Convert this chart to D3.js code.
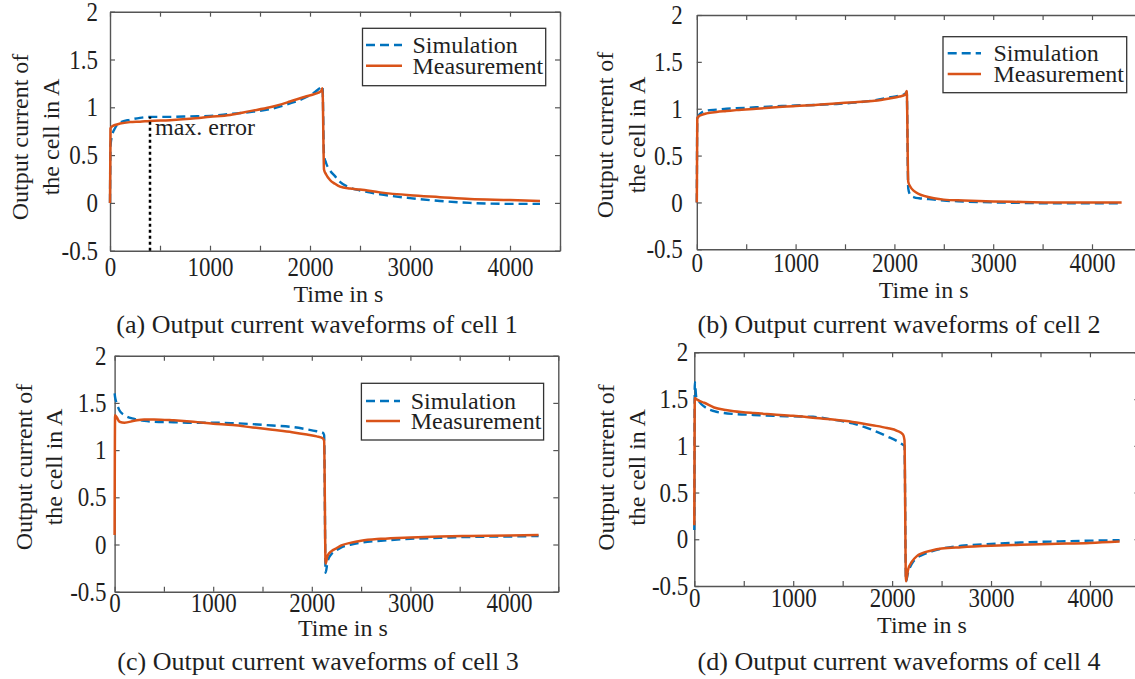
<!DOCTYPE html>
<html>
<head>
<meta charset="utf-8">
<script src="https://cdn.jsdelivr.net/npm/d3@7"></script>
<style>
  body { margin: 0; background: #fff; }
  svg text { font-family: "Liberation Serif", "Times New Roman", serif; fill: #1f1f1f; }
</style>
</head>
<body>
<div id="chart"></div>
<script>
// shared sample times (s)
const time = [0, 5, 20, 50, 100, 200, 300, 400, 600, 800, 1000, 1200, 1400, 1600, 1800, 1950,
  2050, 2110, 2125, 2140, 2160, 2200, 2250, 2300, 2400, 2500, 2700, 3000, 3300, 3600, 4000, 4300];

// output current in A
const simCell1 = [0, 0.6, 0.7, 0.78, 0.84, 0.87, 0.89, 0.9, 0.9, 0.905, 0.91, 0.93, 0.95, 0.98, 1.04, 1.1,
  1.16, 1.21, 1.22, 0.5, 0.42, 0.34, 0.28, 0.22, 0.16, 0.13, 0.09, 0.05, 0.02, 0.0, -0.01, -0.01];
const measCell1 = [0, 0.78, 0.8, 0.815, 0.83, 0.845, 0.85, 0.857, 0.865, 0.88, 0.9, 0.92, 0.96, 1.0, 1.06, 1.11,
  1.14, 1.17, 1.2, 0.35, 0.3, 0.24, 0.2, 0.17, 0.15, 0.14, 0.11, 0.08, 0.06, 0.04, 0.03, 0.02];

const simCell2 = [0, 0.88, 0.93, 0.96, 0.98, 0.99, 1.0, 1.005, 1.015, 1.025, 1.035, 1.04, 1.05, 1.065, 1.09, 1.12,
  1.14, 1.16, 1.18, 0.15, 0.08, 0.055, 0.045, 0.04, 0.03, 0.02, 0.01, 0.0, -0.005, -0.01, -0.01, -0.01];
const measCell2 = [0, 0.9, 0.92, 0.935, 0.95, 0.965, 0.975, 0.985, 1.0, 1.015, 1.03, 1.04, 1.055, 1.07, 1.085, 1.11,
  1.13, 1.15, 1.19, 0.22, 0.17, 0.12, 0.09, 0.07, 0.045, 0.03, 0.02, 0.01, 0.005, 0.0, 0.0, 0.0];

const simCell3 = [1.6, 1.56, 1.5, 1.42, 1.37, 1.33, 1.31, 1.3, 1.295, 1.29, 1.29, 1.285, 1.275, 1.26, 1.245, 1.22,
  1.2, 1.185, 1.16, -0.3, -0.18, -0.1, -0.06, -0.03, 0.0, 0.02, 0.04, 0.06, 0.07, 0.08, 0.085, 0.09];
const measCell3 = [0.1, 1.37, 1.35, 1.3, 1.29, 1.31, 1.325, 1.325, 1.315, 1.3, 1.28, 1.265, 1.24, 1.215, 1.19, 1.165,
  1.145, 1.125, 1.1, -0.2, -0.12, -0.07, -0.04, -0.01, 0.02, 0.04, 0.06, 0.075, 0.085, 0.09, 0.095, 0.1];

const simCell4 = [0.1, 1.68, 1.52, 1.47, 1.42, 1.37, 1.35, 1.34, 1.33, 1.32, 1.315, 1.31, 1.28, 1.24, 1.17, 1.1,
  1.05, 1.01, 1.0, -0.45, -0.36, -0.26, -0.2, -0.17, -0.13, -0.1, -0.07, -0.05, -0.035, -0.025, -0.015, -0.01];
const measCell4 = [0.15, 1.51, 1.5, 1.48, 1.46, 1.41, 1.385, 1.37, 1.35, 1.335, 1.32, 1.3, 1.28, 1.255, 1.22, 1.19,
  1.16, 1.12, 1.06, -0.45, -0.33, -0.24, -0.18, -0.15, -0.12, -0.1, -0.085, -0.07, -0.06, -0.05, -0.04, -0.025];

const xTicks = [0, 500, 1000, 1500, 2000, 2500, 3000, 3500, 4000, 4500];
const xTickLabels = [0, 1000, 2000, 3000, 4000];
const yTicks = [-0.5, 0, 0.5, 1, 1.5, 2];
const seriesNames = ["Simulation", "Measurement"];
const captions = ["(a) Output current waveforms of cell 1", "(b) Output current waveforms of cell 2",
  "(c) Output current waveforms of cell 3", "(d) Output current waveforms of cell 4"];
const xLabel = "Time in s";
const yLabelLines = ["Output current of", "the cell in A"];
const maxErrorTime = 400, maxErrorValue = 0.9;

const simColor = "#0072BD", measColor = "#D95319", axisColor = "#555";
const tickStretch = 1.18; // tick digits in the figure are drawn tall and narrow

// layout of each subplot (pixels)
const panels = [
  {sim: simCell1, meas: measCell1, left: 110, right: 560, top: 11.7, bottom: 250.7, yPad: 12, xPad: 4.9,
   yl: [21.4, 51.8], ylMid: 137, xl: [338.4, 301.7], cap: [317, 333],
   legend: {x0: 362.5, x1: 545.7, y0: 28.3, y1: 85.7, lx0: 366, lx1: 402, tx: 412.5, ys: [45, 65.7]}},
  {sim: simCell2, meas: measCell2, left: 696.8, right: 1141.4, top: 15, bottom: 249.3, yPad: 14, xPad: 2.7,
   yl: [606, 637.7], ylMid: 135, xl: [923.7, 298.3], cap: [899, 333],
   legend: {x0: 943, x1: 1126.7, y0: 36.7, y1: 92.7, lx0: 947.7, lx1: 981, tx: 993.4, ys: [53.3, 74]}},
  {sim: simCell3, meas: measCell3, left: 114.6, right: 558.3, top: 355.7, bottom: 591.7, yPad: 8, xPad: 0.6,
   yl: [25, 55.4], ylMid: 467, xl: [342.9, 636], cap: [318, 670],
   legend: {x0: 361.4, x1: 543.6, y0: 383.3, y1: 440, lx0: 366, lx1: 400, tx: 410.7, ys: [401, 421]}},
  {sim: simCell4, meas: measCell4, left: 694.3, right: 1139.4, top: 352.3, bottom: 586, yPad: 6, xPad: 1.2,
   yl: [607, 637.7], ylMid: 467.5, xl: [922, 633], cap: [899, 670],
   legend: null}
];

const svg = d3.select("#chart").append("svg")
  .attr("width", 1135)
  .attr("height", 679);

panels.forEach((p, k) => {
  const x = d3.scaleLinear().domain([0, 4500]).range([p.left, p.right]);
  const y = d3.scaleLinear().domain([-0.5, 2]).range([p.bottom, p.top]);
  const g = svg.append("g");

  // axes, ticks pointing inward on all four sides
  const styleAxis = sel => {
    sel.attr("font-family", null).attr("font-size", null);
    sel.selectAll("path.domain").attr("stroke", axisColor).attr("stroke-width", 1.4);
    sel.selectAll(".tick line").attr("stroke", axisColor).attr("stroke-width", 1.2);
    sel.selectAll(".tick text")
      .attr("fill", null)
      .style("font-size", "23px")
      .attr("transform", `scale(1,${tickStretch})`);
  };

  g.append("g").attr("transform", `translate(0,${p.bottom})`)
    .call(d3.axisBottom(x).tickValues(xTicks).tickSizeInner(-5).tickSizeOuter(0).tickPadding(p.xPad)
      .tickFormat(d => xTickLabels.includes(d) ? String(d) : ""))
    .call(styleAxis);
  g.append("g").attr("transform", `translate(0,${p.top})`)
    .call(d3.axisTop(x).tickValues(xTicks).tickSizeInner(-5).tickSizeOuter(0).tickFormat(""))
    .call(styleAxis);
  g.append("g").attr("transform", `translate(${p.left},0)`)
    .call(d3.axisLeft(y).tickValues(yTicks).tickSizeInner(-5).tickSizeOuter(0).tickPadding(p.yPad)
      .tickFormat(d => String(d)))
    .call(styleAxis);
  g.append("g").attr("transform", `translate(${p.right},0)`)
    .call(d3.axisRight(y).tickValues(yTicks).tickSizeInner(-5).tickSizeOuter(0).tickFormat(""))
    .call(styleAxis);

  // curves
  const line = d3.line()
    .x((d, i) => x(time[i]))
    .y(d => y(d))
    .curve(d3.curveMonotoneX);

  g.append("path").datum(p.sim)
    .attr("d", line)
    .attr("fill", "none")
    .attr("stroke", simColor)
    .attr("stroke-width", 2.4)
    .attr("stroke-dasharray", "9,5");
  g.append("path").datum(p.meas)
    .attr("d", line)
    .attr("fill", "none")
    .attr("stroke", measColor)
    .attr("stroke-width", 2.5)
    .attr("stroke-linejoin", "round");

  // max. error marker in cell 1
  if (k === 0) {
    g.append("line")
      .attr("x1", x(maxErrorTime)).attr("x2", x(maxErrorTime))
      .attr("y1", y(-0.5)).attr("y2", y(maxErrorValue))
      .attr("stroke", "#000").attr("stroke-width", 2.5)
      .attr("stroke-dasharray", "3,3");
    g.append("text")
      .attr("x", x(maxErrorTime) + 5).attr("y", 135)
      .style("font-size", "24px")
      .text("max. error");
  }

  // labels
  g.append("text")
    .attr("x", p.xl[0]).attr("y", p.xl[1])
    .attr("text-anchor", "middle")
    .style("font-size", "24px")
    .text(xLabel);

  yLabelLines.forEach((t, i) => {
    g.append("text")
      .attr("transform", `translate(${p.yl[i] + 7},${p.ylMid}) rotate(-90)`)
      .attr("text-anchor", "middle")
      .style("font-size", "24px")
      .text(t);
  });

  g.append("text")
    .attr("x", p.cap[0]).attr("y", p.cap[1])
    .attr("text-anchor", "middle")
    .style("font-size", "26px")
    .text(captions[k]);

  // legend
  if (p.legend) {
    const L = p.legend;
    g.append("rect")
      .attr("x", L.x0).attr("y", L.y0)
      .attr("width", L.x1 - L.x0).attr("height", L.y1 - L.y0)
      .attr("fill", "#fff").attr("stroke", "#333").attr("stroke-width", 1.3);
    seriesNames.forEach((name, i) => {
      g.append("line")
        .attr("x1", L.lx0).attr("x2", L.lx1)
        .attr("y1", L.ys[i]).attr("y2", L.ys[i])
        .attr("stroke", i === 0 ? simColor : measColor)
        .attr("stroke-width", 2.4)
        .attr("stroke-dasharray", i === 0 ? "9,5" : null);
      g.append("text")
        .attr("x", L.tx).attr("y", L.ys[i] + 8)
        .style("font-size", "24px")
        .text(name);
    });
  }
});
</script>
</body>
</html>
